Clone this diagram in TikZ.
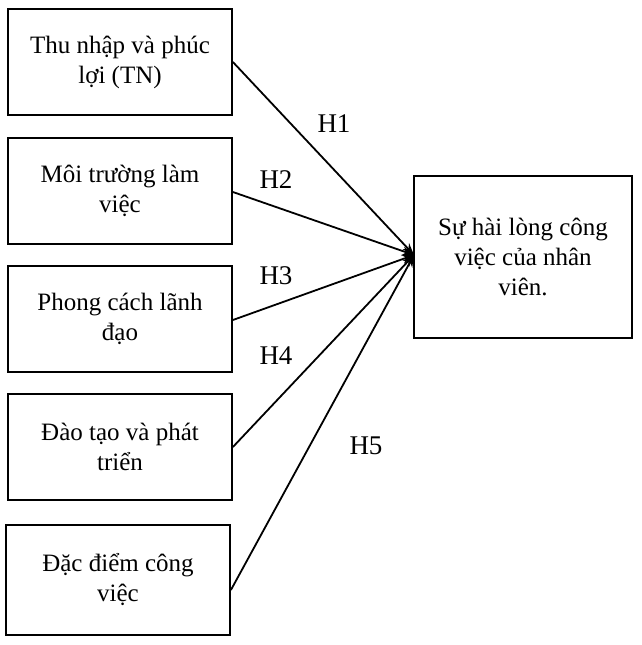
\documentclass[tikz,border=0pt]{standalone}
\usepackage{fontspec}
\setmainfont{Liberation Serif}
\usetikzlibrary{arrows.meta}
\begin{document}
\begin{tikzpicture}[x=1pt,y=-1pt,
  box/.style={draw,line width=1.8pt,align=center,font=\fontsize{25}{30}\selectfont,minimum width=224pt,minimum height=106pt,inner sep=0pt},
  lab/.style={font=\fontsize{27}{30}\selectfont},
  arr/.style={line width=1.8pt,-{Stealth[length=12pt,width=9pt]}}]
\useasboundingbox (0,0) rectangle (642,645);
\node[box] (b1) at (120,62) {Thu nhập và phúc\\lợi (TN)};
\node[box] (b2) at (120,191) {Môi trường làm\\việc};
\node[box] (b3) at (120,319) {Phong cách lãnh\\đạo};
\node[box] (b4) at (120,447) {Đào tạo và phát\\triển};
\node[box,minimum height=110pt] (b5) at (118,580) {Đặc điểm công\\việc};
\node[box,minimum width=218pt,minimum height=162pt] (r) at (523,257) {Sự hài lòng công\\việc của nhân\\viên.};
\coordinate (t) at (414,255);
\foreach \s/\y in {b1/62,b2/192,b3/320,b4/447,b5/590} \draw[arr] (\s.east |- 0,\y) -- (t);
\node[lab] (h1) at (334,124) {H1};
\node[lab] (h2) at (276,180) {H2};
\node[lab] (h3) at (276,276) {H3};
\node[lab] (h4) at (276,356) {H4};
\node[lab] (h5) at (366,446) {H5};
\end{tikzpicture}
\end{document}
